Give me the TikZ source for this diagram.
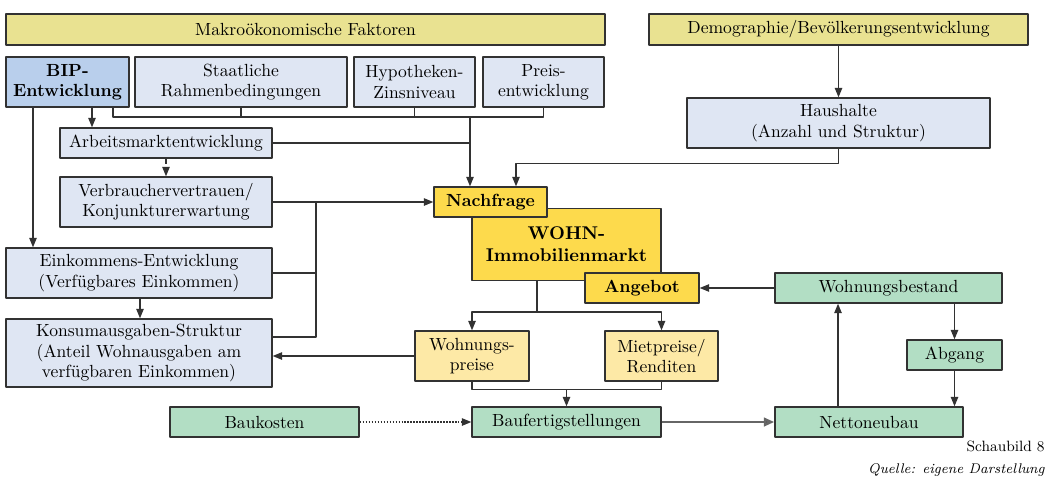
\documentclass[tikz,border=0pt]{standalone}
\usepackage{tikz}
\usetikzlibrary{arrows.meta,calc,positioning}

\definecolor{faktor}{RGB}{233,226,145}
\definecolor{hellblau}{RGB}{223,230,243}
\definecolor{bipblau}{RGB}{185,207,236}
\definecolor{markt}{RGB}{253,218,76}
\definecolor{hellgelb}{RGB}{253,233,166}
\definecolor{gruen}{RGB}{178,222,196}
\definecolor{rand}{RGB}{50,50,50}

\begin{document}
\begin{tikzpicture}[x=0.02cm,y=-0.02cm,line join=round,
	font=\fontsize{10}{11.5}\selectfont,
	box/.style={draw=rand,line width=0.8pt,align=center,inner sep=1pt},
	fbox/.style={box,fill=faktor},
	bbox/.style={box,fill=hellblau},
	mbox/.style={box,fill=markt,font=\fontsize{10}{11.5}\selectfont\bfseries},
	pbox/.style={box,fill=hellgelb},
	gbox/.style={box,fill=gruen},
	con/.style={draw=rand,line width=0.7pt},
	arr/.style={con,-{Triangle[length=1.9mm,width=1.5mm]}}]
	\useasboundingbox (0,0) rectangle (1050,487);
	% obere Ebene
	\node[fbox,minimum width=11.98cm,minimum height=0.62cm] (makro) at (305.5,29.5) {Makro\"okonomische Faktoren};
	\node[fbox,minimum width=7.58cm,minimum height=0.62cm] (demo) at (838.5,29.5) {Demographie/Bev\"olkerungsentwicklung};
	\node[box,fill=bipblau,font=\fontsize{10}{11.5}\selectfont\bfseries,minimum width=2.46cm,minimum height=1cm] (bip) at (67.5,82) {BIP-\\Entwicklung};
	\node[bbox,minimum width=4.24cm,minimum height=1cm] (staat) at (241,82) {Staatliche\\Rahmenbedingungen};
	\node[bbox,minimum width=2.42cm,minimum height=1cm] (hypo) at (414.5,82) {Hypotheken-\\Zinsniveau};
	\node[bbox,minimum width=2.42cm,minimum height=1cm] (preis) at (543.5,82) {Preis-\\entwicklung};
	\node[bbox,minimum width=6.06cm,minimum height=1cm] (haus) at (838.5,123) {Haushalte\\(Anzahl und Struktur)};
	% linke Seite
	\node[bbox,minimum width=4.24cm,minimum height=0.6cm] (arbeit) at (166,143) {Arbeitsmarktentwicklung};
	\node[bbox,minimum width=4.24cm,minimum height=1cm] (verbr) at (166,202) {Verbrauchervertrauen/\\Konjunkturerwartung};
	\node[bbox,minimum width=5.32cm,minimum height=1cm] (eink) at (139,273) {Einkommens-Entwicklung\\(Verf\"ugbares Einkommen)};
	\node[bbox,minimum width=5.32cm,minimum height=1.36cm] (konsum) at (139,353) {Konsumausgaben-Struktur\\(Anteil Wohnausgaben am\\verf\"ugbaren Einkommen)};
	% Markt
	\node[mbox,minimum width=3.78cm,minimum height=1.44cm,font=\fontsize{10.5}{12.5}\selectfont\bfseries] (markt) at (566.5,244.5) {WOHN-\\Immobilienmarkt};
	\node[mbox,minimum width=2.26cm,minimum height=0.6cm] (nachfrage) at (490.5,202) {Nachfrage};
	\node[mbox,minimum width=2.28cm,minimum height=0.6cm] (angebot) at (642,288) {Angebot};
	\node[pbox,minimum width=2.28cm,minimum height=1cm] (wpreis) at (472,356) {Wohnungs-\\preise};
	\node[pbox,minimum width=2.26cm,minimum height=1cm] (miet) at (661.5,356) {Mietpreise/\\Renditen};
	% Bestand
	\node[gbox,minimum width=4.54cm,minimum height=0.6cm] (bestand) at (888.5,288) {Wohnungsbestand};
	\node[gbox,minimum width=1.9cm,minimum height=0.6cm] (abgang) at (954.5,355) {Abgang};
	\node[gbox,minimum width=3.78cm,minimum height=0.6cm] (baukosten) at (264.5,422) {Baukosten};
	\node[gbox,minimum width=3.78cm,minimum height=0.6cm] (baufert) at (566.5,422) {Baufertigstellungen};
	\node[gbox,minimum width=3.76cm,minimum height=0.6cm] (netto) at (869,422) {Nettoneubau};
	\node[anchor=east,inner sep=0pt,font=\fontsize{8.5}{10}\selectfont] (schaubild) at (1045,446) {Schaubild 8};
	\node[anchor=east,inner sep=0pt,font=\fontsize{8}{10}\selectfont\itshape] (quelle) at (1045,470) {Quelle: eigene Darstellung};

	\coordinate (bus) at (470,117);
	\coordinate (fork) at (537,312);
	\draw[arr] (bip.south -| 92,0) -- (arbeit.north -| 92,0);
	\draw[arr] (bip.south -| 33,0) -- (eink.north -| 33,0);
	\draw[con] (bip.south -| 113,0) |- (bus) -| (preis.south);
	\draw[con] (staat.south) -- (staat.south |- bus) (hypo.south) -- (hypo.south |- bus);
	\draw[con] (arbeit.east) -- (arbeit.east -| bus);
	\draw[arr] (bus) -- (nachfrage.north -| bus);
	\draw[arr] (demo.south) -- (haus.north);
	\draw[arr] (haus.south) -- ++(0,15) -| (nachfrage.north -| 516,0);
	\draw[arr,dashed] (arbeit.south) -- (verbr.north);
	\draw[arr] (verbr.east) -- (nachfrage.west);
	\draw[con] (verbr.east -| 316,0) |- (konsum.east |- 0,337);
	\draw[con] (eink.east) -- (eink.east -| 316,0);
	\draw[arr] (eink.south -| 140,0) -- (konsum.north -| 140,0);
	\draw[arr] (wpreis.west) -- (wpreis.west -| konsum.east);
	\draw[con] (markt.south -| fork) -- (fork);
	\draw[arr] (fork) -| (wpreis.north);
	\draw[arr] (fork) -| (miet.north);
	\draw[con] (wpreis.south) -- ++(0,8) -| (miet.south);
	\draw[arr] (baufert.north |- 0,389) -- (baufert.north);
	\draw[arr,densely dotted] (baukosten.east) -- (baufert.west);
	\draw[con,draw=gray!80!black,line width=1.5pt,-{Triangle[length=2.1mm,width=1.7mm,fill=rand]}] (baufert.east) -- (netto.west);
	\draw[arr] (bestand.west) -- (angebot.east);
	\draw[arr] (netto.north -| 838,0) -- (bestand.south -| 838,0);
	\draw[arr] (bestand.south -| abgang.north) -- (abgang.north);
	\draw[arr] (abgang.south) -- (netto.north -| abgang.south);
\end{tikzpicture}
\end{document}
